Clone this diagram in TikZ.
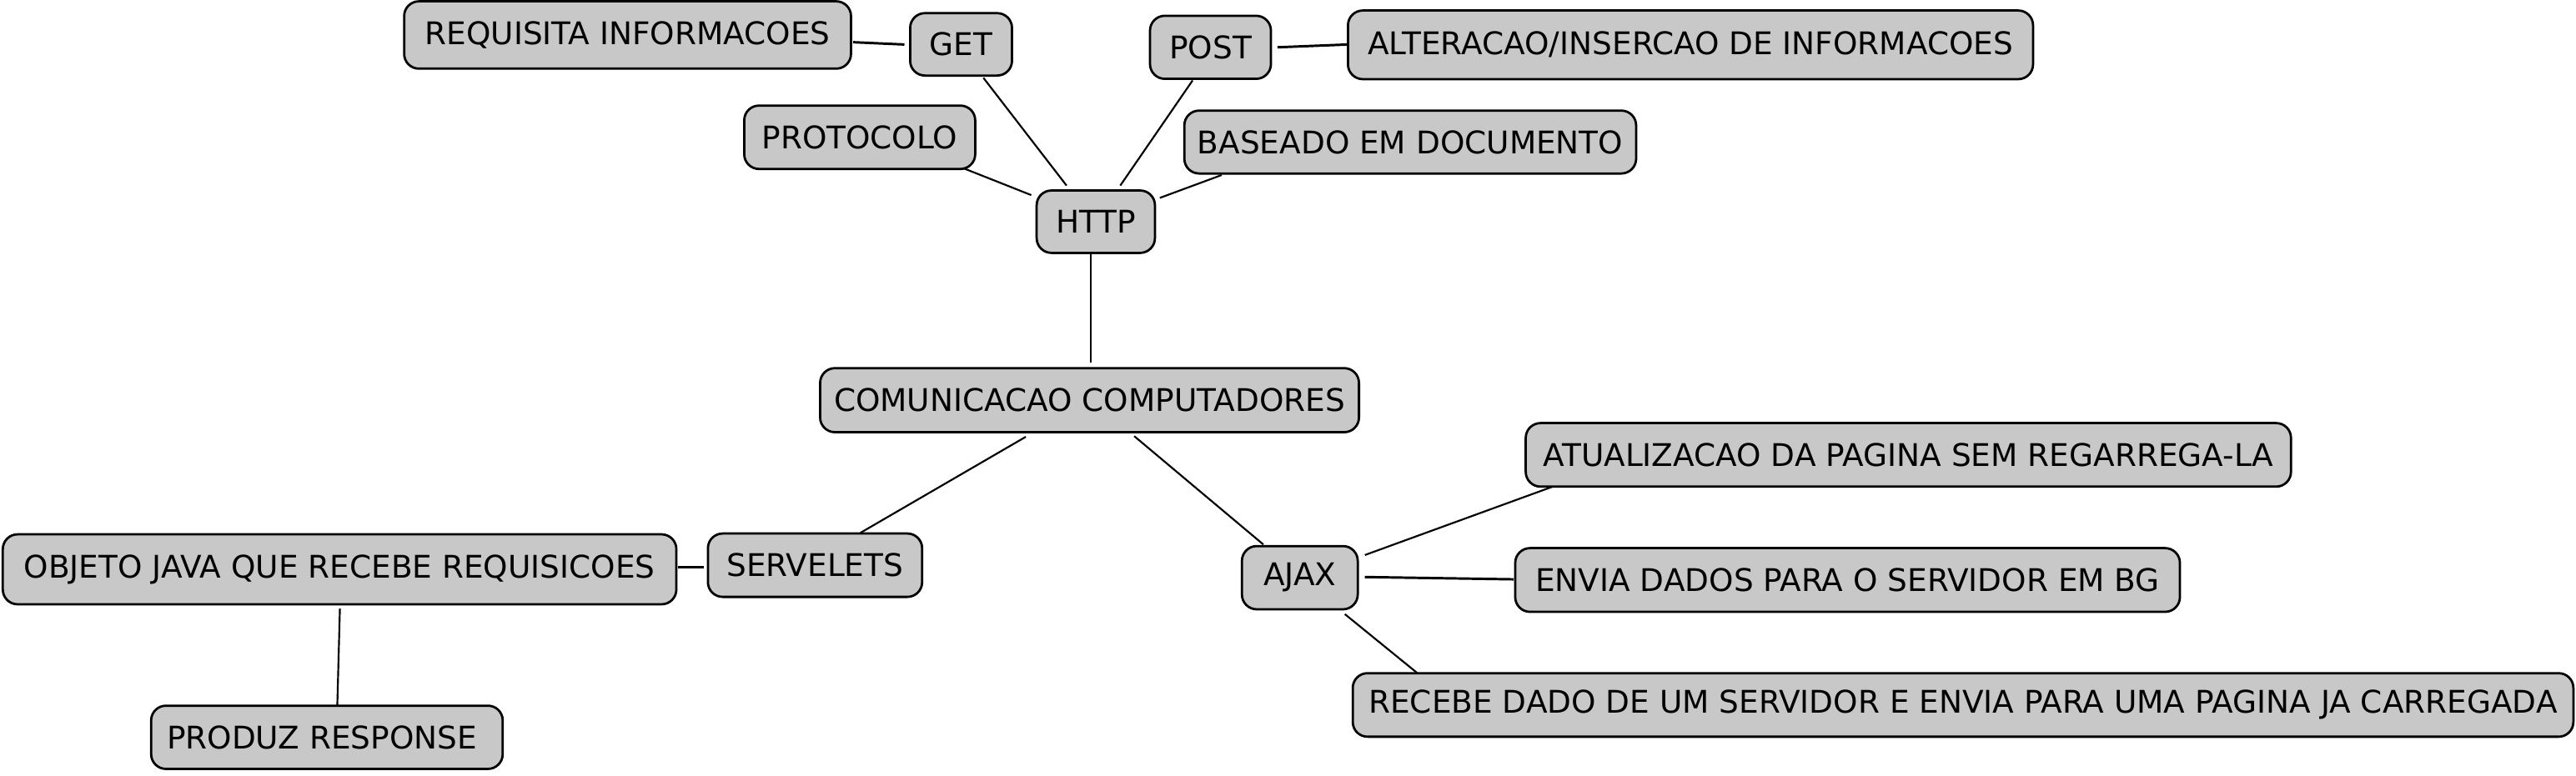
\documentclass[tikz,border=0pt]{standalone}
\usepackage{fontspec}
\setmainfont{DejaVu Sans}
\definecolor{boxgray}{RGB}{200,200,200}
\begin{document}
\begin{tikzpicture}[x=1pt,y=-1pt,
  cbox/.style={draw=black,fill=boxgray,line width=1.4pt,rounded corners=9pt,
    inner sep=0pt,outer sep=0pt,align=center,font=\fontsize{19}{22}\selectfont},
  conn/.style={draw=black,line width=1.1pt},
  connb/.style={draw=black,line width=1.5pt}]
\useasboundingbox (0,0) rectangle (1568,472.1);
% nodes
\node[cbox,minimum width=272pt,minimum height=41pt] (req) at (382,21.3) {REQUISITA INFORMACOES};
\node[cbox,minimum width=62pt,minimum height=38pt] (get) at (585,27) {GET};
\node[cbox,minimum width=73.6pt,minimum height=38.4pt] (post) at (736.8,28.8) {POST};
\node[cbox,minimum width=417pt,minimum height=41.8pt] (alt) at (1029,27.3) {ALTERACAO/INSERCAO DE INFORMACOES};
\node[cbox,minimum width=140.6pt,minimum height=38.6pt] (proto) at (523.3,83.6) {PROTOCOLO};
\node[cbox,minimum width=275pt,minimum height=38.3pt] (base) at (858.4,86.5) {BASEADO EM DOCUMENTO};
\node[cbox,minimum width=72pt,minimum height=38pt] (http) at (667,135) {HTTP};
\node[cbox,minimum width=328pt,minimum height=39pt] (com) at (663.2,243.7) {COMUNICACAO COMPUTADORES};
\node[cbox,minimum width=130.4pt,minimum height=38.6pt] (serv) at (496.1,344.2) {SERVELETS};
\node[cbox,minimum width=410pt,minimum height=42.6pt] (obj) at (206.7,346.7) {OBJETO JAVA QUE RECEBE REQUISICOES};
\node[cbox,minimum width=214pt,minimum height=38.5pt] (prod) at (199,449) {PRODUZ RESPONSE\hspace{6pt}};
\node[cbox,minimum width=70.5pt,minimum height=38.5pt] (ajax) at (791.2,351.8) {AJAX};
\node[cbox,minimum width=465.8pt,minimum height=38.7pt] (atual) at (1161.6,277) {ATUALIZACAO DA PAGINA SEM REGARREGA-LA};
\node[cbox,minimum width=404.6pt,minimum height=38.8pt] (envia) at (1124.6,353.2) {ENVIA DADOS PARA O SERVIDOR EM BG};
\node[cbox,minimum width=743pt,minimum height=38.7pt] (recebe) at (1194.9,429.3) {RECEBE DADO DE UM SERVIDOR E ENVIA PARA UMA PAGINA JA CARREGADA};
% connectors
\draw[connb] ([shift={(137.3,4.4)}]req.center) -- ([shift={(-34.5,0.1)}]get.center);
\draw[conn] ([shift={(13.6,20.4)}]get.center) -- ([shift={(-17.8,-22)}]http.center);
\draw[connb] ([shift={(40.8,0)}]post.center) -- ([shift={(-208.7,-0.2)}]alt.center);
\draw[conn] ([shift={(-10.9,20.2)}]post.center) -- ([shift={(14.9,-22)}]http.center);
\draw[conn] ([shift={(63,18.8)}]proto.center) -- ([shift={(-39.3,-16.2)}]http.center);
\draw[conn] ([shift={(-114.8,20.1)}]base.center) -- ([shift={(39,-14.5)}]http.center);
\draw[conn] ([shift={(-3.2,20)}]http.center) -- ([shift={(0.6,-22.9)}]com.center);
\draw[conn] ([shift={(-38.8,22.3)}]com.center) -- ([shift={(27.6,-19.7)}]serv.center);
\draw[conn] ([shift={(27.2,21.9)}]com.center) -- ([shift={(-22.2,-20.2)}]ajax.center);
\draw[connb] ([shift={(-67.9,1)}]serv.center) -- ([shift={(206,-1.5)}]obj.center);
\draw[conn] ([shift={(0.2,23.9)}]obj.center) -- ([shift={(6.3,-19.2)}]prod.center);
\draw[conn] ([shift={(39.6,-13.8)}]ajax.center) -- ([shift={(-216.6,19.4)}]atual.center);
\draw[connb] ([shift={(39.6,-0.4)}]ajax.center) -- ([shift={(-203.3,-0.4)}]envia.center);
\draw[conn] ([shift={(27.4,22.2)}]ajax.center) -- ([shift={(-332.3,-19.5)}]recebe.center);
\end{tikzpicture}
\end{document}
